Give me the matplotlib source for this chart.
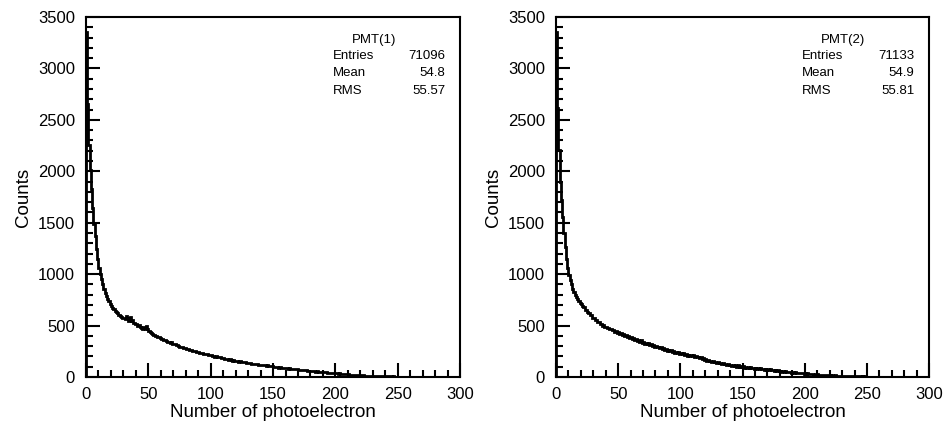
import numpy as np
import matplotlib
matplotlib.use("Agg")
import matplotlib.pyplot as plt
from matplotlib.ticker import MultipleLocator

plt.rcParams['font.family'] = ['Liberation Sans', 'DejaVu Sans']

# counts per bin (bin width = 1 photoelectron, 0..300)
pmt1 = [
    3350, 2650, 2260, 2010, 1830, 1640, 1490, 1370, 1240, 1150, 1060, 1000, 955, 900, 860, 815, 790, 755, 735, 705,
    690, 672, 660, 640, 628, 622, 605, 596, 588, 572, 578, 560, 592, 575, 548, 582, 540, 553, 528, 515,
    512, 498, 505, 482, 476, 470, 488, 462, 495, 470, 445, 438, 430, 418, 412, 402, 396, 390, 384, 378,
    372, 366, 360, 358, 348, 345, 340, 331, 336, 322, 320, 316, 310, 312, 298, 295, 291, 292, 282, 279,
    275, 271, 270, 262, 264, 256, 252, 254, 246, 242, 240, 238, 232, 235, 226, 224, 220, 221, 214, 212,
    210, 205, 206, 198, 200, 193, 190, 192, 184, 182, 180, 176, 178, 171, 168, 170, 164, 160, 162, 156,
    158, 152, 150, 153, 146, 144, 141, 143, 138, 135, 138, 132, 130, 128, 131, 124, 122, 125, 118, 116,
    120, 114, 112, 115, 109, 112, 106, 104, 102, 104, 100, 97, 98, 94, 92, 94, 89, 88, 89, 85,
    85, 83, 82, 84, 79, 78, 79, 75, 74, 75, 72, 70, 69, 70, 66, 65, 66, 62, 61, 60,
    58, 57, 58, 54, 53, 54, 50, 49, 50, 47, 46, 45, 45, 43, 41, 42, 39, 38, 38, 36,
    36, 35, 33, 34, 31, 30, 30, 28, 27, 27, 26, 24, 23, 23, 21, 20, 20, 18, 18, 17,
    17, 15, 15, 14, 13, 13, 12, 11, 12, 10, 11, 9, 9, 9, 8, 8, 7, 8, 6, 7,
    7, 6, 5, 6, 5, 4, 5, 4, 4, 3, 4, 3, 3, 2, 3, 2, 2, 3, 2, 2,
    2, 1, 2, 1, 1, 2, 1, 1, 1, 0, 1, 1, 0, 1, 0, 1, 0, 0, 1, 0,
    1, 0, 0, 0, 1, 0, 0, 0, 0, 0, 0, 0, 0, 0, 0, 0, 0, 0, 0, 0,
]

pmt2 = [
    3350, 2620, 2210, 1900, 1720, 1560, 1400, 1260, 1150, 1060, 990, 945, 905, 860, 830, 800, 782, 760, 738, 716,
    705, 688, 676, 652, 648, 628, 624, 600, 602, 578, 574, 556, 552, 534, 532, 514, 518, 498, 502, 486,
    490, 472, 478, 462, 470, 452, 460, 440, 448, 430, 436, 422, 426, 408, 416, 398, 406, 392, 396, 380,
    390, 370, 376, 358, 366, 350, 356, 342, 358, 334, 344, 324, 332, 320, 328, 310, 318, 302, 312, 294,
    302, 288, 294, 280, 290, 272, 280, 264, 274, 256, 266, 250, 258, 244, 252, 236, 246, 232, 240, 226,
    236, 220, 230, 214, 224, 208, 218, 204, 212, 200, 210, 196, 204, 190, 198, 186, 190, 174, 182, 168,
    176, 160, 168, 152, 160, 146, 156, 142, 150, 138, 146, 132, 140, 126, 134, 122, 128, 116, 124, 112,
    120, 108, 118, 104, 114, 100, 112, 98, 106, 96, 104, 92, 100, 90, 97, 88, 94, 84, 91, 82,
    89, 78, 86, 76, 83, 74, 80, 72, 78, 70, 76, 66, 73, 64, 70, 62, 67, 59, 64, 56,
    62, 53, 59, 51, 56, 48, 53, 46, 50, 43, 48, 41, 45, 39, 43, 36, 40, 34, 38, 32,
    36, 30, 34, 28, 32, 26, 30, 24, 28, 23, 26, 21, 24, 20, 23, 18, 21, 17, 19, 16,
    18, 14, 16, 13, 15, 12, 14, 11, 13, 10, 12, 9, 11, 8, 10, 8, 9, 7, 8, 6,
    7, 5, 7, 5, 6, 4, 6, 4, 5, 3, 4, 3, 4, 2, 4, 3, 3, 2, 3, 2,
    2, 2, 3, 1, 2, 2, 1, 1, 2, 1, 1, 1, 1, 0, 1, 1, 0, 1, 0, 1,
    0, 1, 0, 0, 1, 1, 0, 0, 0, 0, 0, 0, 0, 0, 0, 0, 0, 0, 0, 0,
]

names = ['PMT(1)', 'PMT(2)']
entries = ['71096', '71133']
means = ['54.8', '54.9']
rms = ['55.57', '55.81']

fig = plt.figure(figsize=(9.52, 4.28), dpi=100)
ax1 = fig.add_axes([0.0903, 0.1192, 0.393, 0.841])
ax2 = fig.add_axes([0.584, 0.1192, 0.392, 0.841])

for ax, counts, name, ent, mn, rm in zip([ax1, ax2], [pmt1, pmt2], names, entries, means, rms):
    edges = np.arange(len(counts) + 1)
    ax.stairs(counts, edges, color='black', linewidth=2)
    ax.set_xlim(0, 300)
    ax.set_ylim(0, 3500)
    ax.xaxis.set_major_locator(MultipleLocator(50))
    ax.xaxis.set_minor_locator(MultipleLocator(10))
    ax.yaxis.set_major_locator(MultipleLocator(500))
    ax.yaxis.set_minor_locator(MultipleLocator(100))
    ax.tick_params(which='both', direction='in', width=1.5, labelsize=12,
                   top=False, right=False)
    ax.tick_params(axis='y', which='major', length=10, pad=8)
    ax.tick_params(axis='x', which='major', length=10, pad=7)
    ax.tick_params(which='minor', length=5)
    for sp in ax.spines.values():
        sp.set_linewidth(1.5)
    ax.set_xlabel('Number of photoelectron', fontsize=13.5, labelpad=2)
    ax.set_ylabel('Counts', fontsize=13.5, labelpad=4)

    # stats box
    ax.text(0.77, 0.935, name, transform=ax.transAxes, fontsize=9.5, ha='center', va='center')
    ax.text(0.66, 0.893, 'Entries', transform=ax.transAxes, fontsize=9.5, ha='left', va='center')
    ax.text(0.66, 0.845, 'Mean', transform=ax.transAxes, fontsize=9.5, ha='left', va='center')
    ax.text(0.66, 0.795, 'RMS', transform=ax.transAxes, fontsize=9.5, ha='left', va='center')
    ax.text(0.96, 0.893, ent, transform=ax.transAxes, fontsize=9.5, ha='right', va='center')
    ax.text(0.96, 0.845, mn, transform=ax.transAxes, fontsize=9.5, ha='right', va='center')
    ax.text(0.96, 0.795, rm, transform=ax.transAxes, fontsize=9.5, ha='right', va='center')

fig.savefig('out.png', dpi=100)
